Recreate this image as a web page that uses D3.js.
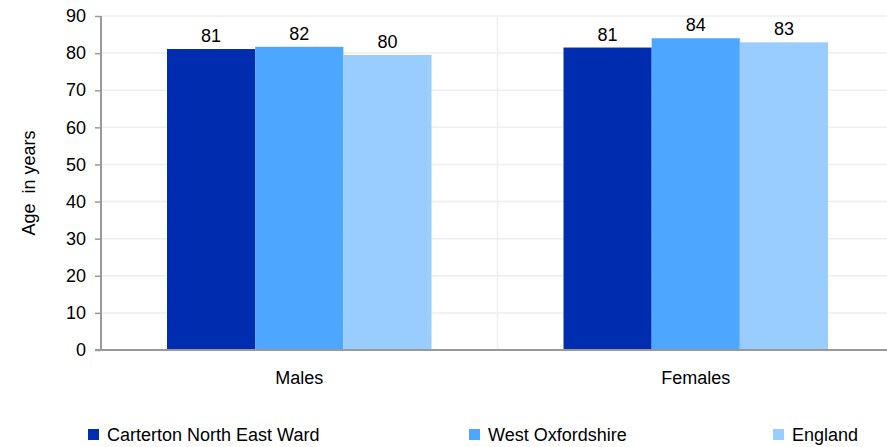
<!DOCTYPE html>
<html>
<head>
<meta charset="utf-8">
<script src="https://cdn.jsdelivr.net/npm/d3@7"></script>
<style>
  body { margin: 0; background: #fff; }
  svg { display: block; font-family: "Liberation Sans", Arial, sans-serif; }
</style>
</head>
<body>
<div id="chart"></div>
<script>
const categories = ['Males', 'Females'];
const seriesNames = ['Carterton North East Ward', 'West Oxfordshire', 'England'];
const carterton = [81.1, 81.5];
const westOxon = [81.7, 84.0];
const england = [79.5, 82.9];
const labels = [[81, 81], [82, 84], [80, 83]];
const yTicks = [0, 10, 20, 30, 40, 50, 60, 70, 80, 90];
const colors = ['#002db0', '#4da6ff', '#99ccff'];

const width = 887, height = 447;
const margin = { top: 16, right: -7, bottom: 97, left: 101 };
const series = [carterton, westOxon, england];
const fontSize = '18px';

const svg = d3.select('#chart').append('svg')
    .attr('width', width)
    .attr('height', height);

const x0 = d3.scaleBand()
    .domain(categories)
    .range([margin.left, width - margin.right])
    .paddingInner(0)
    .paddingOuter(0);

const x1 = d3.scaleBand()
    .domain(seriesNames)
    .range([66, x0.bandwidth() - 66]);

const y = d3.scaleLinear()
    .domain([0, 90])
    .range([height - margin.bottom, margin.top]);

// gridlines
svg.append('g')
    .selectAll('line')
    .data(yTicks.slice(1))
    .join('line')
    .attr('x1', margin.left)
    .attr('x2', width)
    .attr('y1', d => y(d))
    .attr('y2', d => y(d))
    .attr('stroke', '#eeeeee')
    .attr('stroke-width', 1.5);

// vertical separator between groups
svg.append('line')
    .attr('x1', x0('Females'))
    .attr('x2', x0('Females'))
    .attr('y1', y(90))
    .attr('y2', y(0))
    .attr('stroke', '#eeeeee')
    .attr('stroke-width', 1.5);

// bars
const rows = (c, ci) => seriesNames.map((s, si) => ({ s, si, v: series[si][ci], lab: labels[si][ci] }));

const group = svg.append('g')
    .selectAll('g')
    .data(categories)
    .join('g')
    .attr('transform', d => `translate(${x0(d)},0)`);

group.selectAll('rect')
    .data(rows)
    .join('rect')
    .attr('x', d => x1(d.s))
    .attr('width', x1.bandwidth())
    .attr('y', d => y(d.v))
    .attr('height', d => y(0) - y(d.v))
    .attr('fill', d => colors[d.si]);

group.selectAll('text')
    .data(rows)
    .join('text')
    .attr('x', d => x1(d.s) + x1.bandwidth() / 2)
    .attr('y', d => y(d.v) - 7)
    .attr('text-anchor', 'middle')
    .style('font-size', fontSize)
    .style('fill', '#000')
    .text(d => d.lab);

// y axis
const yAxis = svg.append('g')
    .attr('transform', `translate(${margin.left},0)`)
    .call(d3.axisLeft(y).tickValues(yTicks).tickSize(6).tickPadding(9));
yAxis.select('.domain').attr('stroke', '#999').attr('stroke-width', 2)
    .attr('d', `M0,${y(90)}V${y(0)}`);
yAxis.selectAll('.tick line').attr('stroke', '#999').attr('stroke-width', 1.5);
yAxis.selectAll('.tick text')
    .style('font-size', fontSize)
    .style('fill', '#000')
    .style('font-family', '"Liberation Sans", Arial, sans-serif');

// x axis
const xAxis = svg.append('g')
    .attr('transform', `translate(0,${y(0)})`)
    .call(d3.axisBottom(x0).tickSize(0).tickPadding(21));
xAxis.select('.domain').attr('stroke', '#999').attr('stroke-width', 2)
    .attr('d', `M${margin.left - 6},0H${width}`);
xAxis.selectAll('.tick text')
    .style('font-size', fontSize)
    .style('fill', '#000')
    .style('font-family', '"Liberation Sans", Arial, sans-serif');

// y axis title
svg.append('text')
    .attr('transform', `translate(35,${(y(0) + y(90)) / 2}) rotate(-90)`)
    .attr('text-anchor', 'middle')
    .style('font-size', fontSize)
    .style('white-space', 'pre')
    .style('fill', '#000')
    .text('Age  in years');

// legend
const legendX = [88, 469, 773];
const legend = svg.append('g')
    .selectAll('g')
    .data(seriesNames)
    .join('g')
    .attr('transform', (d, i) => `translate(${legendX[i]},435)`);
legend.append('rect')
    .attr('x', 0)
    .attr('y', -6)
    .attr('width', 11)
    .attr('height', 11)
    .attr('fill', (d, i) => colors[i]);
legend.append('text')
    .attr('x', 19)
    .attr('y', 6)
    .style('font-size', fontSize)
    .style('fill', '#000')
    .text(d => d);
</script>
</body>
</html>
